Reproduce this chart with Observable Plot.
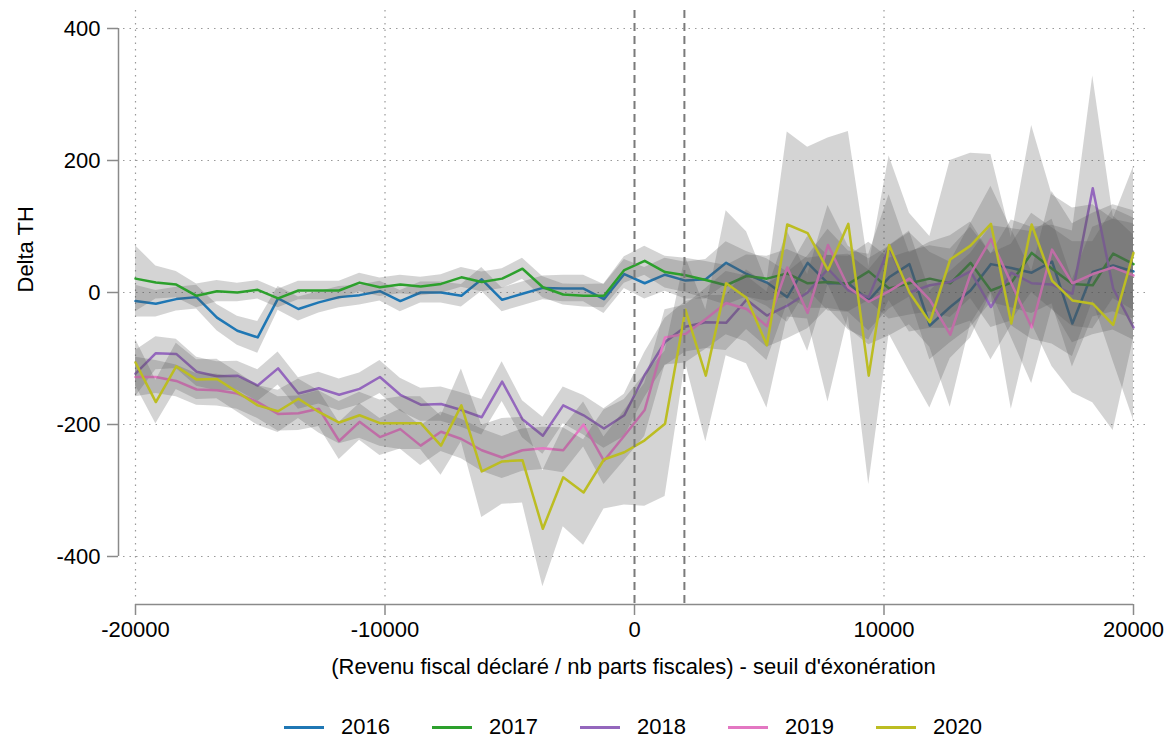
<!DOCTYPE html>
<html><head><meta charset="utf-8">
<script src="https://cdn.jsdelivr.net/npm/d3@7"></script>
<script src="https://cdn.jsdelivr.net/npm/@observablehq/plot@0.6"></script>
<style>
body{margin:0;background:#fff;font-family:"Liberation Sans",Arial,sans-serif;}
#legend{display:flex;justify-content:center;gap:42px;margin-left:118px;width:1030px;height:44px;align-items:center;font-size:22px;color:#000;}
.item{display:flex;align-items:center;}
.sw{width:40px;height:3px;margin-right:17px;}
</style></head><body>
<div id="chart"></div><div id="legend"></div>
<script>
const years = ["2016","2017","2018","2019","2020"];
const colors = ["#1f77b4","#2ca02c","#9467bd","#e377c2","#bcbd22"];
const xTicks = [-20000,-10000,0,10000,20000];
const yTicks = [-400,-200,0,200,400];
const thresholds = [0,2000];
const xLabel = "(Revenu fiscal déclaré / nb parts fiscales) - seuil d'éxonération";
const yLabel = "Delta TH";
const xValues = [-20000,-19184,-18367,-17551,-16735,-15918,-15102,-14286,-13469,-12653,-11837,-11020,-10204,-9388,-8571,-7755,-6939,-6122,-5306,-4490,-3673,-2857,-2041,-1224,-408,408,1224,2041,2857,3673,4490,5306,6122,6939,7755,8571,9388,10204,11020,11837,12653,13469,14286,15102,15918,16735,17551,18367,19184,20000];

const y2016 = [-13,-17,-10,-7,-38,-58,-68,-9,-25,-15,-7,-4,2,-13,0,0,-5,20,-11,-2,7,6,6,-10,28,14,27,18,20,45,28,15,-7,45,14,14,-12,23,43,-50,-22,3,43,37,30,47,-47,31,41,32];
const y2017 = [21,15,12,-5,2,0,4,-9,3,3,3,15,8,12,9,13,23,16,21,36,8,-3,-5,-5,34,48,31,26,19,11,25,21,29,14,16,13,32,6,14,21,14,45,3,15,60,36,13,11,59,43];
const y2018 = [-123,-92,-93,-120,-127,-126,-141,-115,-153,-145,-155,-146,-128,-155,-170,-169,-178,-189,-135,-192,-217,-171,-186,-206,-186,-125,-75,-52,-45,-46,-11,-35,-20,0,36,3,-7,68,0,11,16,32,-22,30,14,12,-2,158,6,-53];
const y2019 = [-128,-128,-134,-147,-148,-153,-166,-184,-183,-176,-225,-196,-219,-207,-232,-211,-222,-239,-250,-239,-236,-239,-200,-255,-217,-178,-68,-63,-40,-16,-25,-51,38,-31,72,8,-14,2,21,-11,-64,28,81,14,-53,65,14,28,38,26];
const y2020 = [-106,-166,-112,-132,-131,-151,-171,-180,-161,-181,-197,-186,-198,-198,-198,-232,-171,-271,-256,-254,-358,-280,-303,-253,-242,-224,-199,-26,-126,14,-8,-80,103,90,34,104,-126,72,0,-45,50,71,104,-47,103,18,-12,-17,-49,60];

const ci2016 = [24,20,18,18,20,22,24,18,18,16,16,15,15,16,16,16,17,18,18,18,18,20,20,22,22,24,25,28,30,32,34,36,38,40,42,44,46,48,50,52,54,56,58,60,62,64,66,68,70,72];
const ci2017 = [50,25,20,18,16,14,14,14,14,14,14,14,14,14,14,14,15,15,15,16,16,16,17,18,20,22,24,26,28,30,32,34,36,38,40,42,44,46,48,50,52,54,56,58,60,62,64,66,68,70];
const ci2018 = [35,25,22,22,22,22,24,25,24,24,24,24,25,25,25,26,26,27,30,28,28,28,30,30,32,34,36,38,40,42,45,48,50,55,60,60,65,80,60,65,70,75,80,80,85,90,95,170,110,140];
const ci2019 = [30,25,24,24,24,24,25,26,26,27,28,28,28,30,30,30,30,32,32,32,32,34,34,36,38,40,42,44,46,48,50,52,55,58,60,62,65,68,70,72,110,76,80,82,85,88,90,92,95,98];
const ci2020 = [35,33,35,30,30,30,30,32,30,32,32,35,35,40,40,45,55,70,65,65,88,75,80,75,80,100,110,80,100,110,100,95,140,130,200,140,165,135,120,130,150,140,105,130,150,130,140,150,160,130];

const series = [y2016,y2017,y2018,y2019,y2020];
const cis = [ci2016,ci2017,ci2018,ci2019,ci2020];

const FS = 22;
const gridStyle = {stroke:"#9a9a9a", strokeWidth:1.2, strokeDasharray:"1.5,5"};
const marks = [
  Plot.ruleY(yTicks, {...gridStyle, insetLeft:5, insetRight:2}),
  Plot.ruleX(xTicks, {...gridStyle, insetBottom:4})
];
years.forEach((yr,k)=>{
  const rows = xValues.map((x,i)=>({x, y:series[k][i], lo:series[k][i]-cis[k][i], hi:series[k][i]+cis[k][i]}));
  marks.push(Plot.areaY(rows,{x:"x", y1:"lo", y2:"hi", fill:"#555", fillOpacity:0.25}));
  marks.push(Plot.line(rows,{x:"x", y:"y", stroke:colors[k], strokeWidth:2.5}));
});
marks.push(Plot.ruleX(thresholds,{stroke:"#7a7a7a", strokeWidth:2, strokeDasharray:"8,5"}));
// axis lines (offset from the plot region, Stata style)
marks.push(Plot.ruleX([xTicks[0]],{y1:yTicks[0], y2:yTicks[yTicks.length-1], dx:-17, stroke:"#8a8a8a", strokeWidth:1.5}));
marks.push(Plot.ruleY([yTicks[0]],{x1:xTicks[0], x2:xTicks[xTicks.length-1], dy:48, stroke:"#8a8a8a", strokeWidth:1.5}));
marks.push(Plot.axisY({ticks:yTicks, tickSize:11, tickPadding:7, tickFormat:d=>String(d), fontSize:FS, stroke:"#8a8a8a", strokeWidth:1.5, fill:"#000", label:null}));
marks.push(Plot.axisX({ticks:xTicks, tickSize:11, tickPadding:6, tickFormat:d=>String(d), fontSize:FS, stroke:"#8a8a8a", strokeWidth:1.5, fill:"#000", label:null}));
marks.push(Plot.text([xLabel],{frameAnchor:"bottom", dy:62, fontSize:FS, lineAnchor:"middle", fill:"#000"}));
marks.push(Plot.text([yLabel],{frameAnchor:"left", rotate:-90, dx:-93, dy:-15, fontSize:FS, fill:"#000"}));

const chart = Plot.plot({
  width:1166, height:705,
  marginLeft:118, marginRight:18, marginTop:10, marginBottom:101,
  style:{fontFamily:"'Liberation Sans', Arial, sans-serif", background:"#fff", color:"#000"},
  x:{domain:[xTicks[0], xTicks[xTicks.length-1]], range:[135,1133]},
  y:{domain:[yTicks[0], yTicks[yTicks.length-1]], range:[556,28]},
  marks
});
document.getElementById("chart").appendChild(chart);

const legend = document.getElementById("legend");
years.forEach((yr,k)=>{
  const it = document.createElement("div"); it.className="item";
  const sw = document.createElement("div"); sw.className="sw"; sw.style.background=colors[k];
  const t = document.createElement("span"); t.textContent=yr;
  it.appendChild(sw); it.appendChild(t); legend.appendChild(it);
});
</script></body></html>
